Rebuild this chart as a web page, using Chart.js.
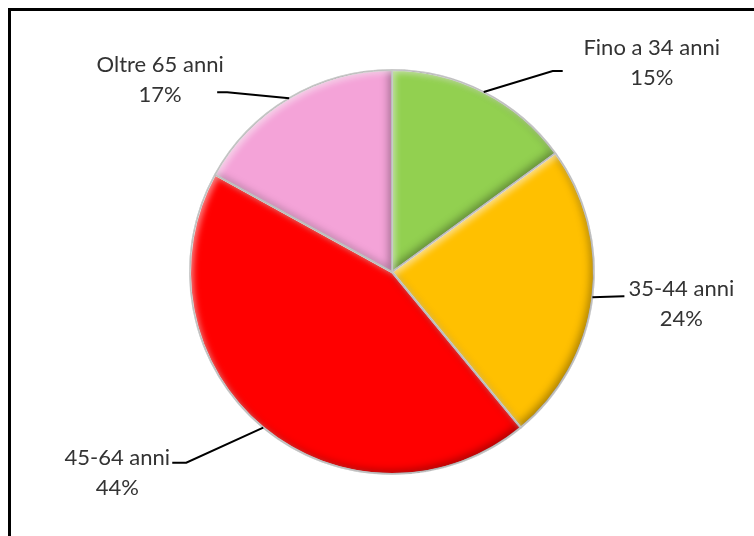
<!DOCTYPE html>
<html>
<head>
<meta charset="utf-8">
<script src="https://cdn.jsdelivr.net/npm/chart.js"></script>
<style>
  html, body { margin: 0; padding: 0; background: #fff; }
  #wrap { position: relative; width: 754px; height: 536px; overflow: hidden; }
  #frame { position: absolute; left: 8px; top: 8px; width: 760px; height: 560px; border: 3px solid #000; box-sizing: border-box; }
  #ageChart { position: absolute; left: 0; top: 0; }
</style>
</head>
<body>
<div id="wrap">
  <div id="frame"></div>
  <canvas id="ageChart" width="754" height="536"></canvas>
</div>
<script>
// data
const categories = ['Fino a 34 anni', '35-44 anni', '45-64 anni', 'Oltre 65 anni'];
const values = [15, 24, 44, 17];
const percentLabels = ['15%', '24%', '44%', '17%'];

const sliceColors = ['#92D050', '#FFC000', '#FF0000', '#F4A3D8'];

// leader line layout, offsets from the slice edge point (elbow, tail end, text centre)
const labelLayout = [
  { elbow: [69, -21], tail: [79, -21], text: [168, -29] },
  { elbow: [31, -1], tail: [32, -1], text: [89, 7] },
  { elbow: [-77, 35], tail: [-91, 35], text: [-146, 45] },
  { elbow: [-62, -6], tail: [-72, -6], text: [-129, -18] }
];

function arcPath(ctx, a) {
  ctx.beginPath();
  ctx.moveTo(a.x, a.y);
  ctx.arc(a.x, a.y, a.outerRadius, a.startAngle, a.endAngle);
  ctx.closePath();
}

function innerShadow(ctx, a, color, blur, ox, oy) {
  ctx.save();
  arcPath(ctx, a);
  ctx.clip();
  ctx.beginPath();
  ctx.rect(-2000, -2000, 5000, 5000);
  ctx.moveTo(a.x, a.y);
  ctx.arc(a.x, a.y, a.outerRadius, a.startAngle, a.endAngle);
  ctx.closePath();
  ctx.shadowColor = color;
  ctx.shadowBlur = blur;
  ctx.shadowOffsetX = ox;
  ctx.shadowOffsetY = oy;
  ctx.fillStyle = '#000';
  ctx.fill('evenodd');
  ctx.restore();
}

const bevelPlugin = {
  id: 'bevel',
  afterDatasetsDraw(chart) {
    const ctx = chart.ctx;
    chart.getDatasetMeta(0).data.forEach(arc => {
      const a = arc.getProps(['x', 'y', 'startAngle', 'endAngle', 'outerRadius']);
      innerShadow(ctx, a, 'rgba(0,0,0,0.35)', 8, -3, -3);
      innerShadow(ctx, a, 'rgba(255,255,255,0.55)', 6, 3, 3);
      ctx.save();
      arcPath(ctx, a);
      ctx.lineWidth = 1.5;
      ctx.strokeStyle = 'rgba(200,200,200,0.9)';
      ctx.stroke();
      ctx.restore();
    });
  }
};

const labelPlugin = {
  id: 'outsideLabels',
  afterDraw(chart) {
    const ctx = chart.ctx;
    chart.getDatasetMeta(0).data.forEach((arc, i) => {
      const a = arc.getProps(['x', 'y', 'startAngle', 'endAngle', 'outerRadius']);
      const mid = (a.startAngle + a.endAngle) / 2;
      const ex = a.x + Math.cos(mid) * a.outerRadius;
      const ey = a.y + Math.sin(mid) * a.outerRadius;
      const lay = labelLayout[i];

      ctx.save();
      ctx.strokeStyle = '#000';
      ctx.lineWidth = 2;
      ctx.beginPath();
      ctx.moveTo(ex, ey);
      ctx.lineTo(ex + lay.elbow[0], ey + lay.elbow[1]);
      ctx.lineTo(ex + lay.tail[0], ey + lay.tail[1]);
      ctx.stroke();

      ctx.fillStyle = '#333';
      ctx.font = '22px Lato, "Open Sans", sans-serif';
      ctx.textAlign = 'center';
      ctx.textBaseline = 'middle';
      const tx = ex + lay.text[0];
      const ty = ey + lay.text[1];
      ctx.fillText(categories[i], tx, ty - 15);
      ctx.fillText(percentLabels[i], tx, ty + 15);
      ctx.restore();
    });
  }
};

document.addEventListener('DOMContentLoaded', () => {
  const ctx = document.getElementById('ageChart').getContext('2d');

  new Chart(ctx, {
    type: 'pie',
    data: {
      labels: categories,
      datasets: [{
        data: values,
        backgroundColor: sliceColors,
        borderColor: '#d4d4d4',
        borderWidth: 2
      }]
    },
    options: {
      responsive: false,
      animation: false,
      layout: {
        padding: { left: 189, right: 159, top: 69, bottom: 61 }
      },
      plugins: {
        legend: { display: false },
        tooltip: { enabled: false }
      }
    },
    plugins: [bevelPlugin, labelPlugin]
  });
});
</script>
</body>
</html>
